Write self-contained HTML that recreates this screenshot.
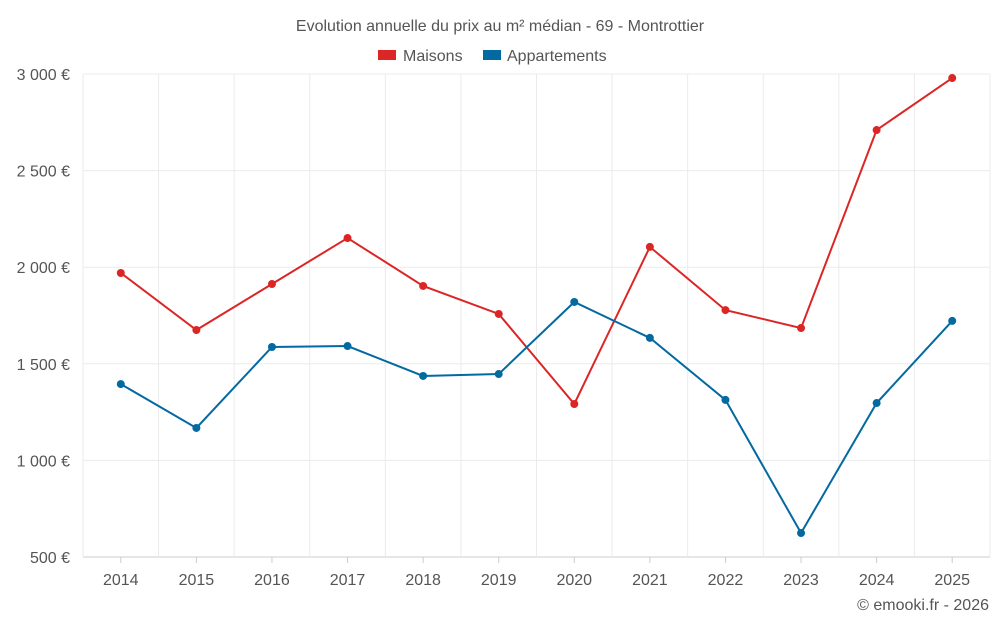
<!DOCTYPE html>
<html><head><meta charset="utf-8">
<style>
body{margin:0;background:#fff;font-family:"Liberation Sans",Roboto,sans-serif;}
svg text{font-family:"Liberation Sans",sans-serif;fill:#555;}
</style></head>
<body>
<svg id="chart" width="1000" height="625" viewBox="0 0 1000 625">
<text x="500" y="31" text-anchor="middle" font-size="16" fill="#666">Evolution annuelle du prix au m² médian - 69 - Montrottier</text>
<g>
<g><rect x="378" y="50" width="18" height="10" fill="#dc2626"/><text x="403" y="61" font-size="16">Maisons</text></g>
<g><rect x="483" y="50" width="18" height="10" fill="#0369a1"/><text x="507" y="61" font-size="16">Appartements</text></g>
</g>
<g id="grid"></g>
<g id="axes"></g>
<g id="series"></g>
<text x="989" y="610" text-anchor="end" font-size="16" fill="#555">© emooki.fr - 2026</text>
</svg>
<script>
const years=[2014,2015,2016,2017,2018,2019,2020,2021,2022,2023,2024,2025];
const maisons=[1970,1675,1913,2151,1903,1758,1292,2105,1778,1685,2710,2979];
const appartements=[1395,1168,1587,1592,1437,1447,1820,1634,1313,624,1297,1722];
const yTicks=[500,1000,1500,2000,2500,3000];
const yTickLabels=["500 €","1 000 €","1 500 €","2 000 €","2 500 €","3 000 €"];

const L=83,R=990,T=74,B=557,yMin=500,yMax=3000;
const step=(R-L)/years.length;
const x=i=>L+step*(i+0.5);
const y=v=>B-(v-yMin)/(yMax-yMin)*(B-T);
const NS="http://www.w3.org/2000/svg";
function mk(tag,attrs,parent){const e=document.createElementNS(NS,tag);for(const k in attrs)e.setAttribute(k,attrs[k]);parent.appendChild(e);return e;}
const grid=document.getElementById('grid'),axes=document.getElementById('axes'),series=document.getElementById('series');
yTicks.forEach((t,i)=>{
  const l=mk('line',{x1:L,x2:R,y1:y(t),y2:y(t),stroke:i==0?'#ccc':'#ebebeb','stroke-width':1},grid);
  
  
  const tx=mk('text',{x:70,y:y(t)+6,'text-anchor':'end','font-size':16},axes);
  tx.textContent=yTickLabels[i];
  
  
});
for(let i=0;i<=years.length;i++){
  const l=mk('line',{x1:L+step*i,x2:L+step*i,y1:T,y2:B,stroke:'#ebebeb','stroke-width':1},grid);
  
  
}
years.forEach((yr,i)=>{
  const tk=mk('line',{x1:x(i),x2:x(i),y1:B,y2:B+6,stroke:'#ccc'},axes);
  
  
  const tx=mk('text',{x:x(i),y:585,'text-anchor':'middle','font-size':16},axes);
  tx.textContent=yr;
  
  
});
function draw(vals,color,name){
  const p=mk('polyline',{points:vals.map((v,i)=>x(i)+','+y(v)).join(' '),fill:'none',stroke:color,'stroke-width':2},series);
  
  
  vals.forEach((v,i)=>{
    const c=mk('circle',{cx:x(i),cy:y(v),r:4,fill:color},series);
    
    
  });
}
draw(maisons,'#dc2626','maisons');
draw(appartements,'#0369a1','appartements');
</script>
</body></html>
